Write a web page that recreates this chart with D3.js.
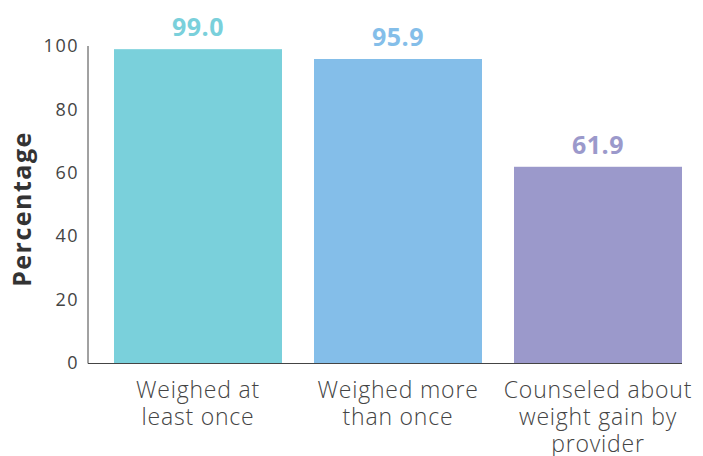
<!DOCTYPE html>
<html>
<head>
	<meta charset="utf-8">
	<title>Weight monitoring</title>
	<style type="text/css">
		body { margin: 0; background: white; }
		#chart { display: block; }
		.tick-label { font-family: "Open Sans", sans-serif; font-size: 18px; letter-spacing: 1.5px; fill: #444; }
		.cat-label { font-family: "Open Sans", sans-serif; font-size: 23px; font-weight: 300; letter-spacing: 0.8px; fill: #444; }
		.val-label { font-family: "Open Sans", sans-serif; font-size: 25px; font-weight: 700; letter-spacing: 0.5px; }
		.y-title { font-family: "Open Sans", sans-serif; font-size: 25px; font-weight: 700; letter-spacing: 1.5px; fill: #333; }
	</style>
</head>
<body>
<svg id="chart"></svg>
<script src="https://d3js.org/d3.v7.min.js"></script>
<script>
	// data
	var categories = ["Weighed at least once", "Weighed more than once", "Counseled about weight gain by provider"];
	var catLines = [["Weighed at", "least once"], ["Weighed more", "than once"], ["Counseled about", "weight gain by", "provider"]];
	var values = [99.0, 95.9, 61.9];
	var barColors = ["#7ad0db", "#84bee9", "#9b99cb"];
	var yTicks = [0, 20, 40, 60, 80, 100];

	var width = 703,
		height = 456;

	var svg = d3.select("#chart")
		.attr("width", width)
		.attr("height", height)

	var x = d3.scaleBand()
		.domain(categories)
		.range([88, 682])
		.paddingInner(0.16)
		.paddingOuter(0.065)
		.align(1)

	var y = d3.scaleLinear()
		.domain([0, 100])
		.range([363, 46])

	// bars
	svg.append("g").selectAll("rect")
		.data(values)
		.enter().append("rect")
		.attr("x", (d, i) => x(categories[i]))
		.attr("y", d => y(d))
		.attr("width", x.bandwidth())
		.attr("height", d => y(0) - y(d))
		.attr("fill", (d, i) => barColors[i])

	// value labels
	svg.append("g").selectAll("text")
		.data(values)
		.enter().append("text")
		.attr("class", "val-label")
		.attr("x", (d, i) => x(categories[i]) + x.bandwidth() / 2)
		.attr("y", d => y(d) - 13)
		.attr("text-anchor", "middle")
		.attr("fill", (d, i) => barColors[i])
		.text(d => d.toFixed(1))

	// y axis
	var yAxis = svg.append("g")
		.attr("transform", "translate(88,0)")
		.call(d3.axisLeft(y).tickValues(yTicks).tickSize(0).tickPadding(9))
	yAxis.select(".domain").attr("stroke", "#444").attr("d", `M0,${y(100)}V${y(0) + 0.5}`)
	yAxis.selectAll("text").attr("class", "tick-label").attr("font-size", null).attr("font-family", null).attr("fill", null)

	// baseline
	svg.append("line")
		.attr("x1", 88).attr("x2", x.range()[1])
		.attr("y1", y(0) + 0.5).attr("y2", y(0) + 0.5)
		.attr("stroke", "#444")

	// category labels
	var cat = svg.append("g").selectAll("text")
		.data(categories)
		.enter().append("text")
		.attr("class", "cat-label")
		.attr("text-anchor", "middle")
		.attr("x", d => x(d) + x.bandwidth() / 2)
		.attr("y", 398)

	cat.selectAll("tspan")
		.data((d, i) => catLines[i])
		.enter().append("tspan")
		.attr("x", function() { return this.parentNode.getAttribute("x") })
		.attr("dy", (d, i) => i === 0 ? 0 : 27)
		.text(d => d)

	// y title
	svg.append("text")
		.attr("class", "y-title")
		.attr("transform", `translate(31,209) rotate(-90)`)
		.attr("text-anchor", "middle")
		.text("Percentage")
</script>
</body>
</html>
